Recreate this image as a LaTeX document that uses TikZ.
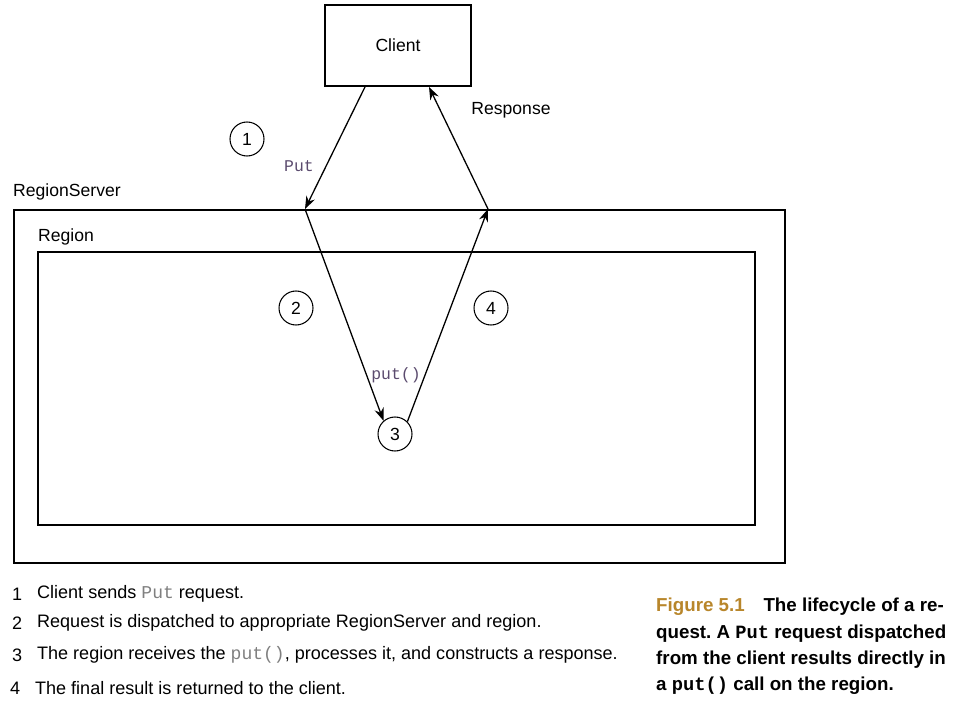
\documentclass[tikz,border=0pt]{standalone}
\usepackage{fontspec}
\setmainfont{Liberation Sans}
\setmonofont{Liberation Mono}
\usetikzlibrary{arrows.meta}
\definecolor{codecol}{HTML}{5B4B6E}
\definecolor{figcol}{HTML}{B8862B}
\frenchspacing

\tikzset{
	box/.style={shape=rectangle,draw=black,line width=1.6pt,inner sep=0pt},
	num/.style={shape=circle,draw=black,line width=0.9pt,minimum size=10.2mm,inner sep=0pt},
	flow/.style={line width=1.1pt,-{Stealth[length=3.8mm,width=2.8mm]}},
	code/.style={font=\fontsize{14}{16}\selectfont\ttfamily,text=codecol},
	legend/.style={anchor=west,font=\fontsize{15.4}{18}\selectfont}
}

\begin{document}
\begin{tikzpicture}[x=0.3mm,y=-0.3mm,font=\fontsize{15}{18}\selectfont]
	\useasboundingbox (0,0) rectangle (966,707);
	
	\node[box,minimum width=43.8mm,minimum height=24.3mm] (client) at (398,45.5) {Client};
	\node[box,anchor=north west,minimum width=231.3mm,minimum height=105.9mm] (rs) at (13,209) {};
	\node[box,anchor=north west,minimum width=215.1mm,minimum height=81.9mm] (region) at (37,251) {};
	\node[anchor=base west,inner sep=0pt] (rslabel) at (13,197) {RegionServer};
	\node[anchor=base west,inner sep=0pt] (regionlabel) at (38,242) {Region};
	
	\node[num] (s1) at (247,139) {1};
	\node[num] (s2) at (296,308) {2};
	\node[num] (s3) at (395,434) {3};
	\node[num] (s4) at (491,308) {4};
	
	\coordinate (in)  at (305,209);
	\coordinate (out) at (488,209);
	
	\path[flow] ([xshift=-9.9mm]client.south) edge (in);
	\path[flow] (in) edge (s3.131);
	\path[flow] (s3.45) edge (out);
	\path[flow] (out) edge ([xshift=9.3mm]client.south);
	
	\node[code] (putlabel) at (299,166) {Put};
	\node[code] (calllabel) at (396,375) {put()};
	\node (resplabel) at (511,110) {Response};
	
	% legend
	\node[legend] (n1) at (8,594) {1};
	\node[legend] (t1) at (33,594) {Client sends {\ttfamily\color{gray}Put} request.};
	\node[legend] (n2) at (8,623) {2};
	\node[legend] (t2) at (33,623) {Request is dispatched to appropriate RegionServer and region.};
	\node[legend] (n3) at (8,655) {3};
	\node[legend] (t3) at (33,655) {The region receives the {\ttfamily\color{gray}put()}, processes it, and constructs a response.};
	\node[legend] (n4) at (6,688) {4};
	\node[legend] (t4) at (31,688) {The final result is returned to the client.};
	
	% caption
	\node[anchor=north west,inner sep=0pt,align=left,font=\fontsize{16}{22.5}\selectfont\bfseries] (caption) at (656,598)
		{{\color{figcol}Figure 5.1}\quad The lifecycle of a re-\\
		quest. A {\ttfamily Put} request dispatched\\
		from the client results directly in\\
		a {\ttfamily put()} call on the region.};
	
\end{tikzpicture}
\end{document}
